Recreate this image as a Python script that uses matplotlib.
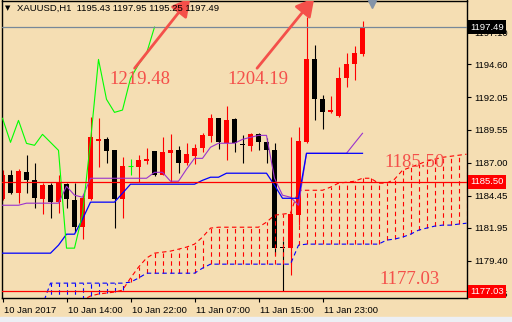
import matplotlib
matplotlib.use('Agg')
import matplotlib.pyplot as plt
import matplotlib.transforms as mtransforms
from matplotlib.patches import FancyArrowPatch, Rectangle
import numpy as np

# XAUUSD H1 candles, bar 0 = first visible hour on 10 Jan 2017
opens = [1184.17, 1186.02, 1184.63, 1186.25, 1185.64, 1184.17, 1185.25, 1183.93, 1185.33, 1184.09,
         1182.00, 1184.17, 1188.65, 1188.80, 1187.95, 1184.17, 1186.72, 1186.64, 1187.11, 1187.88,
         1186.02, 1187.72, 1187.95, 1186.95, 1187.49, 1188.11, 1189.04, 1190.43, 1188.49, 1190.35,
         1188.42, 1188.26, 1189.19, 1188.57, 1187.95, 1180.46, 1180.38, 1182.93, 1188.57, 1194.99,
         1191.90, 1190.89, 1190.58, 1193.52, 1194.60, 1195.43]
highs = [1186.41, 1186.41, 1186.49, 1187.57, 1186.95, 1185.40, 1185.40, 1186.02, 1185.40, 1185.40,
         1184.55, 1190.50, 1190.43, 1188.96, 1187.95, 1187.41, 1187.26, 1187.57, 1188.11, 1187.88,
         1188.96, 1189.19, 1188.26, 1188.49, 1188.42, 1189.27, 1190.74, 1190.43, 1191.35, 1190.43,
         1189.11, 1189.27, 1189.27, 1188.88, 1188.49, 1180.90, 1188.96, 1189.73, 1198.31, 1196.07,
         1192.20, 1192.13, 1194.37, 1195.45, 1195.99, 1197.95]
lows = [1184.09, 1184.55, 1183.86, 1184.63, 1183.47, 1183.01, 1182.70, 1183.09, 1183.47, 1181.62,
        1181.08, 1184.09, 1186.64, 1186.95, 1181.93, 1182.70, 1186.02, 1185.48, 1186.87, 1185.95,
        1186.02, 1185.48, 1186.18, 1186.80, 1186.87, 1187.80, 1188.57, 1188.03, 1187.18, 1187.80,
        1186.95, 1187.88, 1187.95, 1186.95, 1179.84, 1177.10, 1178.29, 1182.20, 1188.49, 1190.27,
        1189.58, 1190.81, 1190.50, 1192.82, 1193.36, 1195.25]
closes = [1186.02, 1184.63, 1186.33, 1185.64, 1184.24, 1185.25, 1183.93, 1185.40, 1184.17, 1182.00,
          1184.24, 1188.96, 1188.80, 1187.88, 1184.17, 1186.72, 1186.72, 1187.18, 1187.26, 1186.02,
          1187.80, 1187.95, 1186.95, 1187.65, 1188.11, 1189.11, 1190.43, 1188.57, 1190.27, 1188.49,
          1188.34, 1189.19, 1188.57, 1187.95, 1180.38, 1180.38, 1183.01, 1188.65, 1194.99, 1191.90,
          1190.89, 1191.07, 1193.52, 1194.60, 1195.45, 1197.49]

# Ichimoku lines
tenkan = [1183.70, 1183.70, 1183.70, 1183.86, 1183.86, 1183.86, 1183.86, 1183.86, 1185.17, 1184.48,
          1184.32, 1185.79, 1185.79, 1185.79, 1185.79, 1185.79, 1185.79, 1185.79, 1185.79, 1186.25,
          1186.25, 1185.56, 1185.56, 1186.49, 1187.33, 1187.33, 1188.19, 1188.50, 1188.50, 1188.50,
          1188.80, 1188.96, 1189.11, 1189.11, 1185.79, 1184.48, 1184.32, 1183.70, 1187.72, 1187.72,
          1187.72, 1187.72, 1187.72, 1187.72, 1188.50, 1189.27]
kijun = [1179.99, 1179.99, 1179.99, 1179.99, 1179.99, 1179.99, 1179.99, 1180.61, 1181.46, 1181.46,
         1182.62, 1183.94, 1183.94, 1183.94, 1183.94, 1184.63, 1185.33, 1185.33, 1185.33, 1185.33,
         1185.33, 1185.33, 1185.33, 1185.33, 1185.33, 1185.63, 1185.87, 1185.87, 1186.18, 1186.18,
         1186.18, 1186.18, 1186.18, 1186.18, 1185.25, 1184.24, 1184.24, 1184.24, 1187.72, 1187.72,
         1187.72, 1187.72, 1187.72, 1187.72, 1187.72, 1187.72]
span_a = [1176.20, 1176.20, 1176.20, 1176.20, 1176.20, 1176.20, 1176.20, 1176.20, 1176.20, 1176.20,
          1176.36, 1176.67, 1176.83, 1176.90, 1176.98, 1177.13, 1178.06, 1178.91, 1179.61, 1179.99,
          1180.07, 1180.15, 1180.30, 1180.46, 1180.69, 1181.23, 1181.93, 1182.00, 1182.00, 1182.00,
          1182.00, 1182.00, 1182.00, 1182.39, 1182.93, 1183.01, 1183.09, 1184.86, 1184.86, 1184.86,
          1184.86, 1185.10, 1185.41, 1185.48, 1185.56, 1185.79, 1185.79, 1185.41, 1185.41, 1185.71,
          1186.41, 1186.64, 1186.87, 1187.11, 1187.26, 1187.41, 1187.49, 1187.57, 1187.65]
span_b = [1175.60, 1175.60, 1175.60, 1175.60, 1175.60, 1175.98, 1177.67, 1177.67, 1177.67, 1177.67,
          1177.67, 1177.67, 1177.67, 1177.67, 1177.67, 1177.67, 1177.75, 1178.06, 1178.44, 1178.44,
          1178.44, 1178.44, 1178.44, 1178.44, 1178.44, 1178.83, 1179.14, 1179.14, 1179.14, 1179.14,
          1179.14, 1179.14, 1179.14, 1179.14, 1179.14, 1179.14, 1179.14, 1180.61, 1180.69, 1180.69,
          1180.69, 1180.69, 1180.69, 1180.69, 1180.69, 1180.69, 1180.69, 1180.69, 1181.00, 1181.08,
          1181.23, 1181.46, 1181.77, 1181.93, 1182.08, 1182.16, 1182.16, 1182.24, 1182.31]

ytick_vals = [1197.10, 1194.60, 1192.05, 1189.55, 1187.00, 1184.45, 1181.95, 1179.40, 1176.85]
xtick_bars = [0, 8, 16, 24, 32, 40]
xtick_labels = ['10 Jan 2017', '10 Jan 14:00', '10 Jan 22:00', '11 Jan 07:00', '11 Jan 15:00', '11 Jan 23:00']
level_lines = [1185.50, 1177.03]
bid = 1197.49
notes = [('1219.48', 13.4, 1193.40), ('1204.19', 28.1, 1193.40),
         ('1185.50', 47.8, 1187.03), ('1177.03', 47.1, 1177.99)]

BG = '#F5DEB3'
NOTE = '#F4504A'
SANS = ['Liberation Sans', 'DejaVu Sans']
W, H = 512, 322

fig = plt.figure(figsize=(W / 100, H / 100), dpi=100, facecolor=BG)
ax = fig.add_axes([2 / W, 24 / H, 465 / W, 297.5 / H])
ax.set_facecolor(BG)
# 8 px per bar, bar centres on pixel centres
ax.set_xlim(-0.0625, -0.0625 + 465 / 8)
ax.set_ylim(1176.52, 1199.55)

o, h, l, c = (np.array(v) for v in (opens, highs, lows, closes))
x = np.arange(len(c))
up, dn, eq = c > o, c < o, c == o
lo = np.minimum(o, c)
body = np.maximum(np.abs(c - o), 0.08)

# candles
ax.vlines(x[up], l[up], h[up], color='#FF0000', lw=0.8, zorder=2)
ax.bar(x[up], body[up], bottom=lo[up], width=0.625, color='#FF0000', zorder=2)
ax.vlines(x[dn], l[dn], h[dn], color='black', lw=0.8, zorder=2)
ax.bar(x[dn], body[dn], bottom=lo[dn], width=0.625, color='black', zorder=2)
ax.vlines(x[eq], l[eq], h[eq], color='#00FF00', lw=0.8, zorder=2)
ax.hlines(c[eq], x[eq] - 0.31, x[eq] + 0.31, color='#00FF00', lw=0.8, zorder=2)

# cloud: dashed hatch between the two spans
sa, sb = np.array(span_a), np.array(span_b)
xs = np.arange(len(sa))
dash = (0, (4, 3))
for i in xs:
    col = '#FF0000' if sa[i] >= sb[i] else '#0000FF'
    ax.plot([i, i], [min(sa[i], sb[i]), max(sa[i], sb[i])], color=col, ls=dash, lw=0.8, zorder=3)
ax.plot(xs, sa, color='#FF0000', ls=dash, lw=0.8, zorder=3)
ax.plot(xs, sb, color='#0000FF', ls=dash, lw=0.8, zorder=3)

# tenkan, kijun, chikou
ax.plot(x, tenkan, color='#9A32CD', lw=0.8, zorder=3)
ax.plot(x, kijun, color='#0000FF', lw=0.9, zorder=3)
ax.plot(np.arange(len(c) - 26), c[26:], color='#00FF00', lw=0.8, zorder=3)

# horizontal levels
for lv in level_lines:
    ax.axhline(lv, color='#FF0000', lw=0.9, zorder=4)
ax.axhline(bid, color='#778899', lw=0.9, zorder=4)

for txt, bx, by in notes:
    ax.text(bx, by, txt, color=NOTE, fontsize=13.5, family='Liberation Serif',
            ha='left', va='center', zorder=5)

for (x0, y0), (x1, y1) in [((16.3, 1194.14), (23.7, 1199.93)), ((31.6, 1194.14), (39.2, 1199.93))]:
    ax.add_patch(FancyArrowPatch((x0, y0), (x1, y1), arrowstyle='-|>,head_length=0.55,head_width=0.3',
                                 mutation_scale=20, color=NOTE, lw=2, zorder=5))

# axes cosmetics
for sp in ax.spines.values():
    sp.set_color('black')
    sp.set_linewidth(1)
ax.yaxis.tick_right()
ax.set_yticks(ytick_vals)
ax.set_yticklabels(['%.2f' % v for v in ytick_vals])
ax.tick_params(axis='y', length=3, width=0.8, pad=2, labelsize=6.8, colors='black')
ax.set_xticks(xtick_bars)
ax.set_xticklabels(xtick_labels)
ax.tick_params(axis='x', length=3, width=0.8, pad=3, labelsize=6.8, colors='black')
shift = mtransforms.ScaledTranslation(2 / 100, 0, fig.dpi_scale_trans)
for lbl in ax.get_xticklabels() + ax.get_yticklabels():
    lbl.set_family(SANS)
for lbl in ax.get_xticklabels():
    lbl.set_ha('left')
    lbl.set_transform(lbl.get_transform() + shift)

# price boxes on the scale
bt = mtransforms.blended_transform_factory(ax.transAxes, ax.transData)
for val, fc in [(bid, 'black'), (level_lines[0], '#FF0000'), (level_lines[1], '#FF0000')]:
    ax.text(1.0 + 3 / 465, val, '%.2f' % val, transform=bt, ha='left', va='center', color='white',
            fontsize=6.8, family=SANS, clip_on=False, zorder=6,
            bbox=dict(boxstyle='square,pad=0.25', fc=fc, ec='none'))

# header and shift marker
fig.text(5 / W, 1 - 8.5 / H, '\u25bc', fontsize=5, family=['DejaVu Sans'], va='center')
fig.text(17 / W, 1 - 8.5 / H, 'XAUUSD,H1  1195.43 1197.95 1195.25 1197.49', fontsize=6.8,
         family=SANS, va='center')
ax.plot([(372 - 2) / 465], [1 - 2.5 / 297.5], marker='v', ms=7, color='#8494A8',
        transform=ax.transAxes, clip_on=False, zorder=6)
fig.patches.append(Rectangle((0, 0), 1, 5 / H, transform=fig.transFigure, color='#ECEFF4', zorder=0))

fig.savefig('out.png', dpi=100, facecolor=BG)
